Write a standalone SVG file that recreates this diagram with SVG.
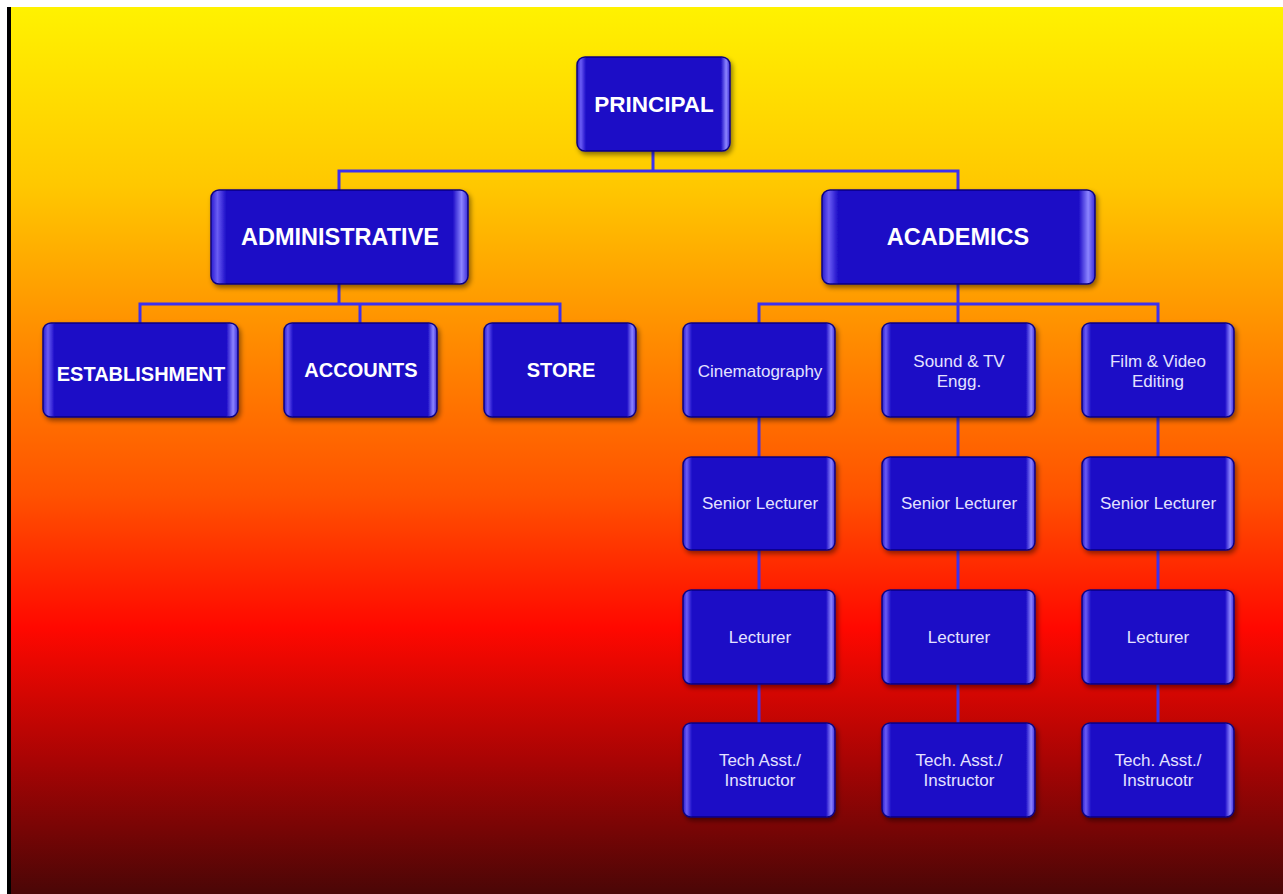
<svg xmlns="http://www.w3.org/2000/svg" width="1283" height="894" viewBox="0 0 1283 894">
<defs>
<linearGradient id="bg" x1="0" y1="0" x2="0" y2="1">
<stop offset="0" stop-color="#FFF200"/>
<stop offset="0.2" stop-color="#FFC800"/>
<stop offset="0.38" stop-color="#FF8A00"/>
<stop offset="0.55" stop-color="#FF5200"/>
<stop offset="0.7" stop-color="#FF0800"/>
<stop offset="0.85" stop-color="#A80404"/>
<stop offset="1" stop-color="#4A0606"/>
</linearGradient>
<linearGradient id="nf" x1="0" y1="0" x2="1" y2="0">
<stop offset="0" stop-color="#2A1AD0"/>
<stop offset="0.025" stop-color="#6A5CF4"/>
<stop offset="0.06" stop-color="#1A0AC6"/>
<stop offset="0.94" stop-color="#1A0AC6"/>
<stop offset="0.975" stop-color="#8C84FF"/>
<stop offset="1" stop-color="#3A2AD8"/>
</linearGradient>
<filter id="sh" x="-10%" y="-10%" width="125%" height="130%">
<feDropShadow dx="2" dy="3" stdDeviation="2.5" flood-color="#000" flood-opacity="0.45"/>
</filter>
</defs>
<style>
.n{fill:url(#nf);stroke:#0C0680;stroke-width:1.5;filter:url(#sh)}
.c{fill:none;stroke:#3C30F0;stroke-width:3}
.b{font-family:"Liberation Sans",Arial,sans-serif;font-weight:bold;fill:#FFFFFF;text-anchor:middle}
.s{font-family:"Liberation Sans",Arial,sans-serif;font-size:17px;fill:#E4E2FF;text-anchor:middle}
</style>
<rect x="0" y="0" width="1283" height="894" fill="#FFFFFF"/>
<rect x="7" y="7" width="1276" height="887" fill="#000"/>
<rect x="11" y="7" width="1272" height="887" fill="url(#bg)"/>
<g id="connectors">
<path class="c" d="M653 151V171M339 190V171H958V190"/>
<path class="c" d="M339 284V304M140 323V304H560V323M360 304V323"/>
<path class="c" d="M958 284V304M759 323V304H1158V323M958 304V323"/>
<path class="c" d="M759 417V457M759 550V590M759 684V723"/>
<path class="c" d="M958 417V457M958 550V590M958 684V723"/>
<path class="c" d="M1158 417V457M1158 550V590M1158 684V723"/>
</g>
<g id="principal"><rect class="n" x="577" y="57" width="153" height="94" rx="8"/><text class="b" x="654" y="112" font-size="22.5">PRINCIPAL</text></g>
<g id="administrative"><rect class="n" x="211" y="190" width="257" height="94" rx="8"/><text class="b" x="340" y="245" font-size="23.5">ADMINISTRATIVE</text></g>
<g id="academics"><rect class="n" x="822" y="190" width="273" height="94" rx="8"/><text class="b" x="958" y="245" font-size="23.5">ACADEMICS</text></g>
<g id="establishment"><rect class="n" x="43" y="323" width="195" height="94" rx="8"/><text class="b" x="141" y="381" font-size="20">ESTABLISHMENT</text></g>
<g id="accounts"><rect class="n" x="284" y="323" width="153" height="94" rx="8"/><text class="b" x="361" y="377" font-size="20">ACCOUNTS</text></g>
<g id="store"><rect class="n" x="484" y="323" width="152" height="94" rx="8"/><text class="b" x="561" y="377" font-size="20">STORE</text></g>
<g id="cinematography"><rect class="n" x="683" y="323" width="152" height="94" rx="8"/><text class="s" x="760" y="377">Cinematography</text></g>
<g id="sound"><rect class="n" x="882" y="323" width="153" height="94" rx="8"/><text class="s" x="959" y="367">Sound &amp; TV</text><text class="s" x="959" y="387">Engg.</text></g>
<g id="film"><rect class="n" x="1082" y="323" width="152" height="94" rx="8"/><text class="s" x="1158" y="367">Film &amp; Video</text><text class="s" x="1158" y="387">Editing</text></g>
<g id="sl1"><rect class="n" x="683" y="457" width="152" height="93" rx="8"/><text class="s" x="760" y="509">Senior Lecturer</text></g>
<g id="sl2"><rect class="n" x="882" y="457" width="153" height="93" rx="8"/><text class="s" x="959" y="509">Senior Lecturer</text></g>
<g id="sl3"><rect class="n" x="1082" y="457" width="152" height="93" rx="8"/><text class="s" x="1158" y="509">Senior Lecturer</text></g>
<g id="l1"><rect class="n" x="683" y="590" width="152" height="94" rx="8"/><text class="s" x="760" y="643">Lecturer</text></g>
<g id="l2"><rect class="n" x="882" y="590" width="153" height="94" rx="8"/><text class="s" x="959" y="643">Lecturer</text></g>
<g id="l3"><rect class="n" x="1082" y="590" width="152" height="94" rx="8"/><text class="s" x="1158" y="643">Lecturer</text></g>
<g id="t1"><rect class="n" x="683" y="723" width="152" height="94" rx="8"/><text class="s" x="760" y="766">Tech Asst./</text><text class="s" x="760" y="786">Instructor</text></g>
<g id="t2"><rect class="n" x="882" y="723" width="153" height="94" rx="8"/><text class="s" x="959" y="766">Tech. Asst./</text><text class="s" x="959" y="786">Instructor</text></g>
<g id="t3"><rect class="n" x="1082" y="723" width="152" height="94" rx="8"/><text class="s" x="1158" y="766">Tech. Asst./</text><text class="s" x="1158" y="786">Instrucotr</text></g>
</svg>
